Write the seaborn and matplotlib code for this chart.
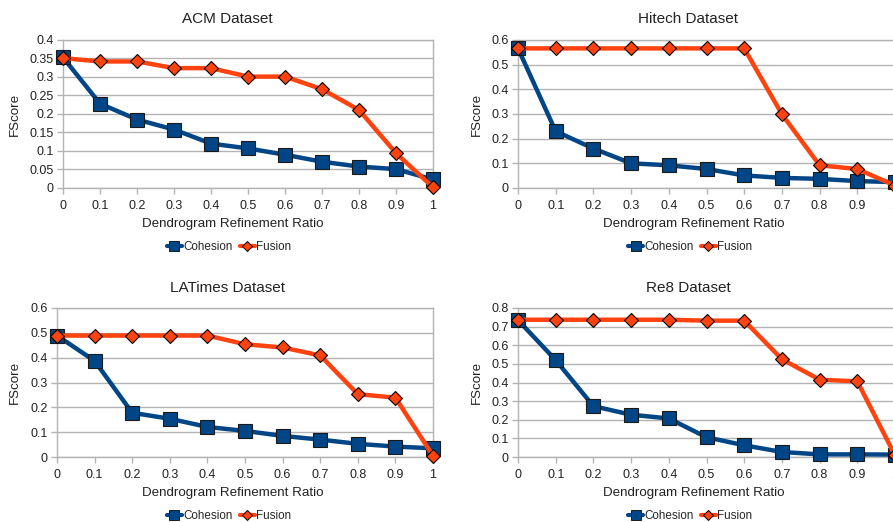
import numpy as np
import pandas as pd
import matplotlib
matplotlib.use("Agg")
import matplotlib.pyplot as plt
import seaborn as sns
from matplotlib.lines import Line2D

ratios = [0, 0.1, 0.2, 0.3, 0.4, 0.5, 0.6, 0.7, 0.8, 0.9, 1]
tick_labels = ["0", "0.1", "0.2", "0.3", "0.4", "0.5", "0.6", "0.7", "0.8", "0.9", "1"]

acm_cohesion = [0.353, 0.228, 0.185, 0.158, 0.120, 0.107, 0.090, 0.071, 0.058, 0.051, 0.023]
acm_fusion = [0.351, 0.342, 0.342, 0.324, 0.324, 0.301, 0.301, 0.267, 0.211, 0.094, 0.002]

hitech_cohesion = [0.566, 0.230, 0.160, 0.100, 0.092, 0.077, 0.051, 0.041, 0.037, 0.028, 0.024]
hitech_fusion = [0.566, 0.566, 0.566, 0.566, 0.566, 0.566, 0.566, 0.299, 0.092, 0.077, 0.010]

latimes_cohesion = [0.489, 0.387, 0.178, 0.154, 0.121, 0.105, 0.085, 0.070, 0.053, 0.042, 0.035]
latimes_fusion = [0.489, 0.489, 0.489, 0.489, 0.489, 0.454, 0.441, 0.409, 0.253, 0.239, 0.005]

re8_cohesion = [0.735, 0.520, 0.273, 0.227, 0.207, 0.106, 0.063, 0.027, 0.014, 0.014, 0.013]
re8_fusion = [0.737, 0.737, 0.737, 0.737, 0.737, 0.732, 0.732, 0.525, 0.415, 0.406, 0.009]

titles = ["ACM Dataset", "Hitech Dataset", "LATimes Dataset", "Re8 Dataset"]
series_names = ["Cohesion", "Fusion"]
x_label = "Dendrogram Refinement Ratio"
y_label = "FScore"

sns.set_theme(style="whitegrid")
plt.rcParams["font.family"] = ["Liberation Sans", "DejaVu Sans"]

COH = "#004586"
FUS = "#ff420e"
GRID = "#b3b3b3"
TXT = "#222222"

fig = plt.figure(figsize=(8.93, 5.22), dpi=100)
W, H = 893.0, 522.0

panels = [
    dict(title=titles[0], coh=acm_cohesion, fus=acm_fusion, px=(63, 433), py=(40, 188),
         ymax=0.4, ystep=0.05, yfmt=["0", "0.05", "0.1", "0.15", "0.2", "0.25", "0.3", "0.35", "0.4"],
         cx=227, top=0, ylx=15),
    dict(title=titles[1], coh=hitech_cohesion, fus=hitech_fusion, px=(518, 895), py=(40, 188),
         ymax=0.6, ystep=0.1, yfmt=["0", "0.1", "0.2", "0.3", "0.4", "0.5", "0.6"],
         cx=688, top=0, ylx=477),
    dict(title=titles[2], coh=latimes_cohesion, fus=latimes_fusion, px=(57, 433), py=(308, 457),
         ymax=0.6, ystep=0.1, yfmt=["0", "0.1", "0.2", "0.3", "0.4", "0.5", "0.6"],
         cx=227, top=269, ylx=15),
    dict(title=titles[3], coh=re8_cohesion, fus=re8_fusion, px=(518, 895), py=(308, 457),
         ymax=0.8, ystep=0.1, yfmt=["0", "0.1", "0.2", "0.3", "0.4", "0.5", "0.6", "0.7", "0.8"],
         cx=688, top=269, ylx=477),
]

for p in panels:
    x0, x1 = p["px"]
    yt, yb = p["py"]
    ax = fig.add_axes([x0 / W, 1 - yb / H, (x1 - x0) / W, (yb - yt) / H])
    df = pd.DataFrame({
        "ratio": ratios * 2,
        "score": list(p["coh"]) + list(p["fus"]),
        "series": [series_names[0]] * len(ratios) + [series_names[1]] * len(ratios),
    })
    sns.lineplot(data=df[df.series == "Cohesion"], x="ratio", y="score", ax=ax,
                 color=COH, lw=3.2, marker="s", markersize=9.5,
                 markerfacecolor=COH, markeredgecolor="#1a1a1a", markeredgewidth=0.8,
                 clip_on=False, zorder=3, legend=False)
    sns.lineplot(data=df[df.series == "Fusion"], x="ratio", y="score", ax=ax,
                 color=FUS, lw=3.2, marker="D", markersize=7,
                 markerfacecolor=FUS, markeredgecolor="#000000", markeredgewidth=0.8,
                 clip_on=False, zorder=4, legend=False)
    ax.set_xlim(0, 1)
    ax.set_ylim(0, p["ymax"])
    yt_vals = [i * p["ystep"] for i in range(len(p["yfmt"]))]
    ax.set_yticks(yt_vals)
    ax.set_yticklabels(p["yfmt"])
    ax.set_xticks(ratios)
    ax.set_xticklabels(tick_labels)
    ax.set_xlabel("")
    ax.set_ylabel("")
    ax.set_facecolor("white")
    ax.grid(False)
    ax.yaxis.grid(True, color=GRID, lw=1.0)
    for s in ax.spines.values():
        s.set_visible(True)
        s.set_color(GRID)
        s.set_linewidth(1.0)
    ax.tick_params(axis="both", which="both", length=4, width=1, color=GRID,
                   labelsize=9, labelcolor=TXT, pad=2.5, direction="out",
                   bottom=True, left=True)
    ax.tick_params(axis="x", pad=5)
    ax.set_axisbelow(True)

    top = p["top"]
    cx = p["cx"]
    fig.text(cx / W, 1 - (top + 19) / H, p["title"], ha="center", va="center",
             fontsize=11, color=TXT)
    fig.text((cx + 6) / W, 1 - (top + 224) / H, x_label, ha="center", va="center",
             fontsize=9.6, color=TXT)
    fig.text(p["ylx"] / W, 1 - ((yt + yb) / 2) / H, y_label,
             ha="center", va="center", rotation=90, fontsize=9.6, color=TXT)
    handles = [
        Line2D([0], [0], color=COH, lw=3, marker="s", markersize=6.5,
               markerfacecolor=COH, markeredgecolor="#1a1a1a", markeredgewidth=0.7),
        Line2D([0], [0], color=FUS, lw=3, marker="D", markersize=5,
               markerfacecolor=FUS, markeredgecolor="#000000", markeredgewidth=0.7),
    ]
    fig.legend(handles, series_names, loc="center", bbox_to_anchor=((cx + 2) / W, 1 - (top + 247) / H),
               ncol=2, frameon=False, fontsize=8.4, handlelength=1.3, handletextpad=0.1,
               columnspacing=0.6, borderaxespad=0, borderpad=0)

fig.savefig("out.png", dpi=100, facecolor="white")
